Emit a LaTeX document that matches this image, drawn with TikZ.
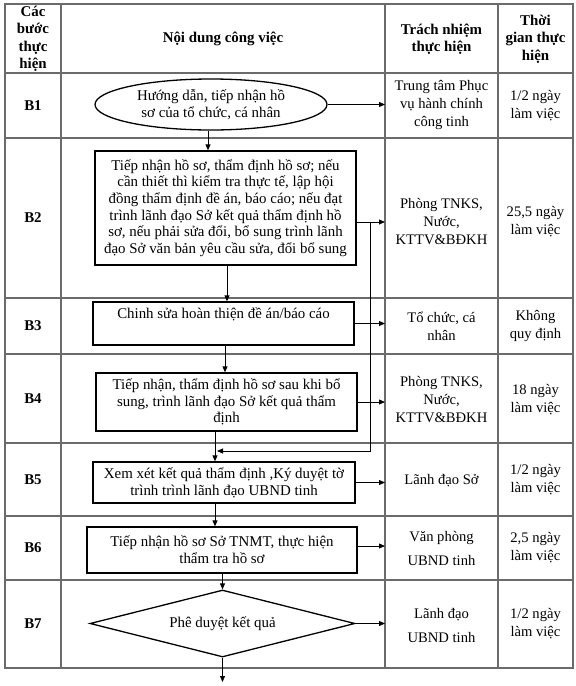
\documentclass[tikz,border=0pt]{standalone}
\usepackage{fontspec}
\setmainfont{Liberation Serif}
\usetikzlibrary{arrows.meta,shapes.geometric}
\begin{document}
\begin{tikzpicture}[x=1pt,y=-1pt,
  every node/.style={font=\fontsize{14.6pt}{18pt}\selectfont, align=center, inner sep=0pt},
  grid/.style={draw=black!58, line width=1.2pt},
  stepbox/.style={draw, line width=1.3pt, rectangle, inner sep=0pt, font=\fontsize{14.9pt}{16.7pt}\selectfont},
  arr/.style={line width=0.8pt, -{Triangle[length=6pt,width=5pt]}},
  hd/.style={font=\fontsize{14.9pt}{17.5pt}\selectfont\bfseries},
  spread/.style={font=\fontsize{14.6pt}{24pt}\selectfont},
]
\useasboundingbox (0,0) rectangle (576,686);
% table
\draw[grid] (5,4) rectangle (573,668);
\foreach \x in {61,385,498} \draw[grid] (\x,4) -- (\x,668);
\foreach \y in {73,138,298,354,443,516,580} \draw[grid] (5,\y) -- (573,\y);
% header
\node[hd] (h1) at (33,39) {Các\\bước\\thực\\hiện};
\node[hd] (h2) at (223,39) {Nội dung công việc};
\node[hd] (h3) at (441.5,39) {Trách nhiệm\\thực hiện};
\node[hd] (h4) at (535.5,39) {Thời\\gian thực\\hiện};
% step labels
\node[hd] (s1) at (33,105.5) {B1};
\node[hd] (s2) at (33,218) {B2};
\node[hd] (s3) at (33,326) {B3};
\node[hd] (s4) at (33,398.5) {B4};
\node[hd] (s5) at (33,479.5) {B5};
\node[hd] (s6) at (33,548) {B6};
\node[hd] (s7) at (33,624) {B7};
% flow
\node[ellipse, draw, line width=1.3pt, minimum width=232pt, minimum height=51pt, font=\fontsize{14.9pt}{16.7pt}\selectfont] (e1) at (211,104.5) {Hướng dẫn, tiếp nhận hồ\\sơ của tổ chức, cá nhân};
\node[stepbox, minimum width=261pt, minimum height=114pt] (b2) at (225.5,208) {Tiếp nhận hồ sơ, thẩm định hồ sơ; nếu\\cần thiết thì kiểm tra thực tế, lập hội\\đồng thẩm định đề án, báo cáo; nếu đạt\\trình lãnh đạo Sở kết quả thẩm định hồ\\sơ, nếu phải sửa đổi, bổ sung trình lãnh\\đạo Sở văn bản yêu cầu sửa, đổi bổ sung};
\node[stepbox, minimum width=261pt, minimum height=43pt] (b3) at (223.5,323.5) {Chinh sửa hoàn thiện đề án/báo cáo\\\strut};
\node[stepbox, minimum width=261pt, minimum height=58pt] (b4) at (226.5,402) {Tiếp nhận, thẩm định hồ sơ sau khi bổ\\sung, trình lãnh đạo Sở kết quả thẩm\\định};
\node[stepbox, minimum width=262pt, minimum height=41pt] (b5) at (224,482.5) {Xem xét kết quả thẩm định ,Ký duyệt tờ\\trình trình lãnh đạo UBND tinh};
\node[stepbox, minimum width=270pt, minimum height=46pt] (b6) at (222,550) {Tiếp nhận hồ sơ Sở TNMT, thực hiện\\thẩm tra hồ sơ};
\node[diamond, draw, line width=1.3pt, minimum width=265pt, minimum height=67pt, aspect=3.9, font=\fontsize{14.9pt}{16.7pt}\selectfont] (d7) at (222.5,623.5) {Phê duyệt kết quả};
% responsibility
\node (r1) at (441.5,105) {Trung tâm Phục\\vụ hành chính\\công tinh};
\node (r2) at (441.5,222) {Phòng TNKS,\\Nước,\\KTTV\&BĐKH};
\node (r3) at (441.5,326) {Tổ chức, cá\\nhân};
\node (r4) at (441.5,400) {Phòng TNKS,\\Nước,\\KTTV\&BĐKH};
\node (r5) at (441.5,481) {Lãnh đạo Sở};
\node[spread] (r6) at (441.5,548) {Văn phòng\\UBND tinh};
\node[spread] (r7) at (441.5,625) {Lãnh đạo\\UBND tinh};
% time
\node (t1) at (535.5,105.5) {1/2 ngày\\làm việc};
\node (t2) at (535.5,222) {25,5 ngày\\làm việc};
\node (t3) at (535.5,326) {Không\\quy định};
\node (t4) at (535.5,400) {18 ngày\\làm việc};
\node (t5) at (535.5,480) {1/2 ngày\\làm việc};
\node (t6) at (535.5,548) {2,5 ngày\\làm việc};
\node (t7) at (535.5,624) {1/2 ngày\\làm việc};
% helper coordinates
\coordinate (cl) at (385,0);
\coordinate (x1) at (208,0);
\coordinate (x2) at (227,0);
\coordinate (x3) at (225,0);
\coordinate (x4) at (215,0);
\coordinate (y2) at (0,222);
\coordinate (y6) at (0,546);
\coordinate (j) at (370,222);
\coordinate (lp) at (370,451);
\coordinate (endp) at (0,682);
% vertical connectors
\draw[arr] (e1.south -| x1) -- (b2.north -| x1);
\draw[arr] (b2.south -| x2) -- (b3.north -| x2);
\draw[arr] (b3.south -| x3) -- (b4.north -| x3);
\draw[arr] (b4.south -| x4) -- (b5.north -| x4);
\draw[arr] (b5.south -| x4) -- (b6.north -| x4);
\draw[arr] (b6.south -| d7.north) -- (d7.north);
\draw[arr] (d7.south) -- (d7.south |- endp);
% horizontal connectors
\draw[arr] (e1.east) -- (e1.east -| cl);
\draw[arr] (b2.east |- y2) -- (cl |- y2);
\draw[arr] (b3.east) -- (b3.east -| cl);
\draw[arr] (b4.east) -- (b4.east -| cl);
\draw[arr] (b5.east) -- (b5.east -| cl);
\draw[arr] (b6.east |- y6) -- (cl |- y6);
\draw[arr] (d7.east) -- (d7.east -| cl);
% loop back
\draw[arr] (j) -- (lp) -- ([xshift=2pt]lp -| x4);
\end{tikzpicture}
\end{document}
